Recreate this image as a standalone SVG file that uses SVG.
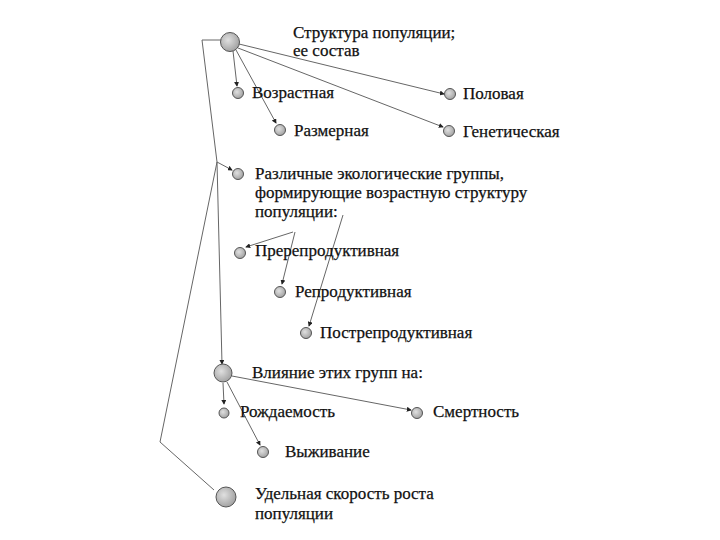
<svg xmlns="http://www.w3.org/2000/svg" width="720" height="540" viewBox="0 0 720 540">
<defs>
<marker id="ah" viewBox="0 0 6 6" refX="5" refY="3" markerWidth="5" markerHeight="5" orient="auto" markerUnits="userSpaceOnUse">
<path d="M0,0 L6,3 L0,6 z" fill="#222"/>
</marker>
<radialGradient id="g" cx="0.4" cy="0.4" r="0.7">
<stop offset="0" stop-color="#e0e0e0"/>
<stop offset="1" stop-color="#9a9a9a"/>
</radialGradient>
</defs>
<style>
.n{fill:url(#g);stroke:#555;stroke-width:1}
.t{font-family:'Liberation Serif','Times New Roman',serif;font-size:17px;fill:#111;stroke:#111;stroke-width:0.25}
.c{fill:none;stroke:#666;stroke-width:1}
.a{marker-end:url(#ah)}
</style>
<rect width="720" height="540" fill="#fff"/>
<g id="connectors">
<polyline class="c" points="221,40 202,40 217,162"/>
<line class="c a" x1="217" y1="162" x2="232" y2="170"/>
<polyline class="c" points="217,162 160,442 214,490"/>
<line class="c a" x1="217" y1="162" x2="222" y2="364"/>
<line class="c a" x1="233" y1="51" x2="237" y2="86"/>
<line class="c a" x1="236" y1="50" x2="276" y2="123"/>
<line class="c a" x1="239" y1="44" x2="444" y2="94"/>
<line class="c a" x1="238" y1="48" x2="443" y2="127"/>
<line class="c a" x1="293" y1="232" x2="246" y2="247"/>
<line class="c a" x1="295" y1="232" x2="282" y2="284"/>
<line class="c a" x1="343" y1="215" x2="309" y2="326"/>
<line class="c a" x1="223" y1="383" x2="224" y2="404"/>
<line class="c a" x1="227" y1="382" x2="260" y2="445"/>
<line class="c a" x1="232" y1="376" x2="411" y2="410"/>
</g>
<g id="n-structure"><circle class="n" cx="230" cy="42" r="9.5"/>
<text class="t" x="293" y="38">Структура популяции;</text><text class="t" x="293" y="56">ее состав</text></g>
<g id="n-age"><circle class="n" cx="238" cy="93" r="5.5"/><text class="t" x="252" y="98">Возрастная</text></g>
<g id="n-size"><circle class="n" cx="280" cy="130" r="5.5"/><text class="t" x="294" y="136">Размерная</text></g>
<g id="n-sex"><circle class="n" cx="450" cy="94" r="5.5"/><text class="t" x="463" y="99">Половая</text></g>
<g id="n-gen"><circle class="n" cx="449" cy="131" r="5.5"/><text class="t" x="463" y="137">Генетическая</text></g>
<g id="n-groups"><circle class="n" cx="238" cy="174" r="5.5"/>
<text class="t" x="255" y="179">Различные экологические группы,</text>
<text class="t" x="255" y="198">формирующие возрастную структуру</text>
<text class="t" x="255" y="217">популяции:</text></g>
<g id="n-pre"><circle class="n" cx="240" cy="253" r="5.5"/><text class="t" x="255" y="256">Пререпродуктивная</text></g>
<g id="n-rep"><circle class="n" cx="280" cy="292" r="5.5"/><text class="t" x="295" y="297">Репродуктивная</text></g>
<g id="n-post"><circle class="n" cx="306" cy="333" r="5.5"/><text class="t" x="320" y="338">Пострепродуктивная</text></g>
<g id="n-influence"><circle class="n" cx="223" cy="373" r="9"/><text class="t" x="252" y="378">Влияние этих групп на:</text></g>
<g id="n-birth"><circle class="n" cx="224" cy="413" r="5"/><text class="t" x="240" y="417">Рождаемость</text></g>
<g id="n-death"><circle class="n" cx="417" cy="413" r="5.5"/><text class="t" x="433" y="417">Смертность</text></g>
<g id="n-surv"><circle class="n" cx="263" cy="452" r="5.5"/><text class="t" x="285" y="457">Выживание</text></g>
<g id="n-rate"><circle class="n" cx="226" cy="497" r="10"/>
<text class="t" x="255" y="499">Удельная скорость роста</text><text class="t" x="255" y="519">популяции</text></g>
</svg>
